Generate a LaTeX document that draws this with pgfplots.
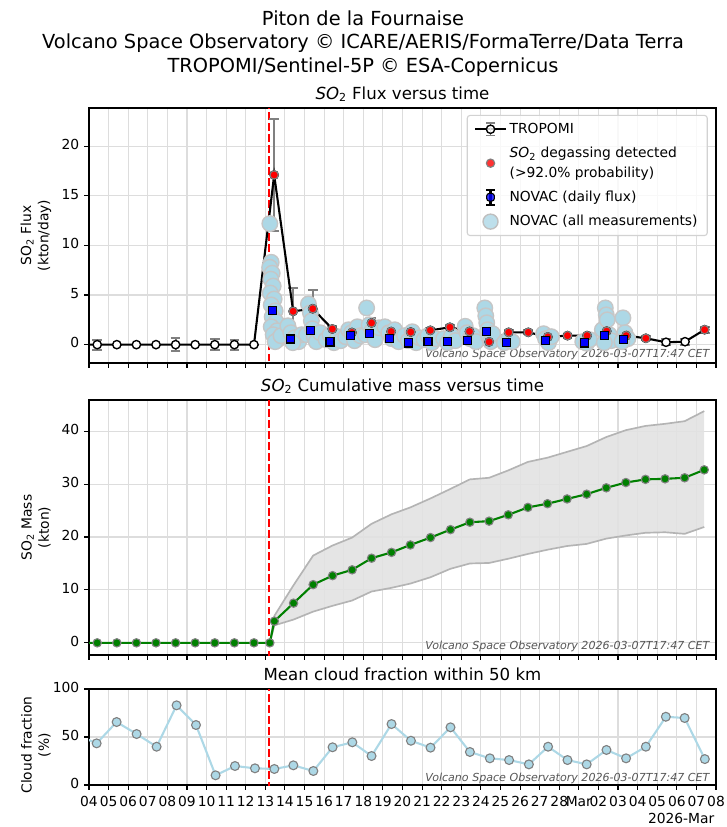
\documentclass[border=0pt]{standalone}
\usepackage{fontspec}
\setmainfont{DejaVu Sans}
\usepackage{pgfplots}
\usepackage{pgfplotstable}
\pgfplotsset{compat=1.18}
\usepgfplotslibrary{fillbetween}

\definecolor{lblue}{HTML}{ADD8E6}
\definecolor{mplgreen}{HTML}{008000}
\definecolor{gridc}{HTML}{DDDDDD}
\definecolor{wmark}{HTML}{555555}
\definecolor{edgegray}{HTML}{808080}
\definecolor{bandfill}{HTML}{E2E2E2}
\definecolor{bandedge}{HTML}{B4B4B4}

% TROPOMI flux: x (days since Feb 04), flux, error
\pgfplotstableread[row sep=\\]{
x y e\\
-0.58 0 0\\
0.42 0 0.5\\
1.42 0 0\\
2.42 0 0\\
3.42 0 0\\
4.42 0 0.65\\
5.42 0 0\\
6.42 0 0.55\\
7.42 0 0.5\\
8.42 0 0\\
9.45 17.1 5.6\\
10.42 3.36 2.35\\
11.42 3.62 1.9\\
12.42 1.58 0.3\\
13.42 1.22 0.3\\
14.42 2.19 0.5\\
15.42 1.32 0.3\\
16.42 1.27 0.2\\
17.42 1.44 0.2\\
18.42 1.75 0.2\\
19.42 1.33 0.2\\
20.42 0.28 0.2\\
21.42 1.24 0.2\\
22.42 1.24 0.2\\
23.42 0.78 0.2\\
24.42 0.91 0.2\\
25.42 0.91 0.2\\
26.42 1.36 0.3\\
27.42 0.91 0.2\\
28.42 0.64 0.2\\
29.45 0.24 0.3\\
30.42 0.30 0.3\\
31.42 1.51 0.3\\
}\tropomi

% degassing detected (red)
\pgfplotstableread[row sep=\\]{
x y\\
9.45 17.1\\
10.42 3.36\\
11.42 3.62\\
12.42 1.58\\
13.42 1.22\\
14.42 2.19\\
15.42 1.32\\
16.42 1.27\\
17.42 1.44\\
18.42 1.75\\
19.42 1.33\\
20.42 0.28\\
21.42 1.24\\
22.42 1.24\\
23.42 0.78\\
24.42 0.91\\
25.42 0.91\\
26.42 1.36\\
27.42 0.91\\
28.42 0.64\\
31.42 1.51\\
}\degas

% NOVAC daily flux
\pgfplotstableread[row sep=\\]{
x y e\\
9.35 3.45 2.85\\
10.30 0.57 0.25\\
11.30 1.42 1.03\\
12.30 0.27 0.20\\
13.35 0.93 0.45\\
14.30 1.10 0.75\\
15.35 0.63 0.45\\
16.30 0.17 0.15\\
17.30 0.30 0.15\\
18.30 0.30 0.15\\
19.30 0.42 0.25\\
20.30 1.30 1.20\\
21.30 0.23 0.15\\
23.30 0.40 0.20\\
25.30 0.17 0.15\\
26.30 0.91 1.00\\
27.30 0.50 0.30\\
}\novacday

% NOVAC all measurements
\pgfplotstableread[row sep=\\]{
x y\\
9.23 12.2\\ 9.30 8.3\\ 9.22 7.8\\ 9.35 7.2\\ 9.28 6.6\\ 9.40 5.9\\ 9.25 5.2\\ 9.45 4.6\\
9.30 4.0\\ 9.50 3.4\\ 9.35 2.8\\ 9.55 2.3\\ 9.30 1.8\\ 9.60 1.4\\ 9.40 1.0\\ 9.70 0.6\\
9.50 0.3\\ 9.80 0.9\\
10.15 1.9\\ 10.30 1.2\\ 10.50 0.7\\ 10.70 0.3\\ 10.85 1.0\\ 10.40 0.2\\
11.10 1.0\\ 11.20 4.1\\ 11.30 3.2\\ 11.35 2.4\\ 11.40 1.6\\ 11.50 0.8\\ 11.60 0.3\\ 11.80 1.2\\
12.10 0.5\\ 12.30 1.0\\ 12.50 0.2\\ 12.70 0.8\\ 12.85 0.4\\
13.10 0.8\\ 13.25 1.5\\ 13.40 1.2\\ 13.55 0.4\\ 13.70 1.8\\ 13.85 0.9\\
14.10 1.0\\ 14.17 3.7\\ 14.30 2.0\\ 14.45 1.4\\ 14.60 0.5\\ 14.80 1.7\\
15.10 1.8\\ 15.30 1.2\\ 15.45 0.6\\ 15.60 1.5\\ 15.80 0.3\\
16.10 0.9\\ 16.30 0.4\\ 16.50 1.3\\ 16.70 0.2\\ 16.85 0.7\\
17.10 0.5\\ 17.30 0.9\\ 17.50 0.2\\ 17.70 0.6\\
18.10 0.6\\ 18.30 0.2\\ 18.50 0.9\\ 18.70 0.4\\
19.20 1.85\\ 19.30 1.2\\ 19.45 0.6\\ 19.60 0.9\\ 19.75 0.3\\
20.20 3.7\\ 20.25 2.9\\ 20.30 2.2\\ 20.35 1.5\\ 20.40 0.8\\ 20.50 0.3\\ 20.60 1.1\\
21.20 0.2\\ 21.40 0.5\\ 21.60 0.3\\
23.20 1.1\\ 23.30 0.6\\ 23.45 0.2\\ 23.60 0.8\\
25.20 0.3\\ 25.40 0.15\\ 25.55 0.5\\
26.20 1.5\\ 26.35 3.7\\ 26.40 3.0\\ 26.45 2.5\\ 26.55 1.0\\ 26.65 0.4\\ 26.30 0.2\\
27.25 2.7\\ 27.35 1.2\\ 27.50 0.6\\ 27.20 0.3\\
}\novacall

% cumulative mass: x, mass, lower, upper
\pgfplotstableread[row sep=\\]{
x y lo up\\
-0.58 0 0 0\\
0.42 0 0 0\\
1.42 0 0 0\\
2.42 0 0 0\\
3.42 0 0 0\\
4.42 0 0 0\\
5.42 0 0 0\\
6.42 0 0 0\\
7.42 0 0 0\\
8.42 0 0 0\\
9.23 0 0 0\\
9.46 4.1 3.3 5.1\\
10.44 7.5 4.4 10.9\\
11.44 11.0 5.9 16.5\\
12.43 12.7 7.0 18.4\\
13.43 13.8 8.0 19.9\\
14.42 16.0 9.7 22.5\\
15.44 17.1 10.4 24.3\\
16.40 18.5 11.2 25.6\\
17.43 19.9 12.4 27.3\\
18.45 21.4 14.0 29.1\\
19.44 22.8 15.0 30.9\\
20.42 23.0 15.1 31.2\\
21.40 24.2 15.9 32.6\\
22.40 25.6 16.8 34.2\\
23.40 26.3 17.6 35.0\\
24.40 27.2 18.3 36.1\\
25.40 28.1 18.7 37.2\\
26.40 29.3 19.7 38.9\\
27.40 30.3 20.3 40.2\\
28.40 30.9 20.8 41.0\\
29.40 31.0 20.9 41.4\\
30.40 31.2 20.6 41.9\\
31.40 32.7 21.9 43.8\\
}\mass

% cloud fraction
\pgfplotstableread[row sep=\\]{
x y\\
-0.58 52\\
0.39 43.4\\
1.41 65.6\\
2.43 53.1\\
3.45 39.9\\
4.47 83.0\\
5.46 62.5\\
6.46 10.1\\
7.45 19.8\\
8.47 17.4\\
9.46 16.7\\
10.43 20.5\\
11.45 14.6\\
12.43 39.3\\
13.44 44.5\\
14.42 30.2\\
15.44 63.5\\
16.43 46.1\\
17.43 38.9\\
18.45 60.1\\
19.44 34.4\\
20.46 27.8\\
21.44 26.0\\
22.45 21.5\\
23.43 39.9\\
24.42 26.0\\
25.40 21.5\\
26.41 36.5\\
27.41 27.8\\
28.42 39.9\\
29.44 71.1\\
30.40 69.8\\
31.43 27.0\\
}\cloud

\pgfplotsset{
  vso/.style={
    scale only axis, width=451.44bp, anchor=south west,
    xmin=0, xmax=32, xtick={0,...,32},
    grid=major, major grid style={gridc, line width=0.8bp},
    axis line style={black, line width=0.8bp},
    tick align=outside, major tick length=3.5bp,
    tick style={black, line width=0.8bp},
    xtick pos=bottom, ytick pos=left,
    /pgf/number format/assume math mode=true,
    typeset ticklabels with strut,
    tick label style={font=\fontsize{10}{12}\selectfont},
    every axis y label/.style={at={(axis description cs:0,0.5)}, xshift=-38.2bp, rotate=90, anchor=center, align=center, font=\fontsize{10}{12.5}\selectfont},
    title style={at={(0.5,1)}, anchor=base, yshift=0.5bp, inner sep=0pt, font=\fontsize{12}{14}\selectfont},
  },
  eruption/.style={red, line width=1.5bp, dash pattern=on 5.5bp off 2.4bp, forget plot},
}
\tikzset{
  wm/.style={anchor=south east, inner sep=0pt, text=wmark, font=\fontsize{8}{9}\selectfont\itshape},
}

\begin{document}
\begin{tikzpicture}
% figure title
\node[anchor=base, font=\fontsize{14}{16}\selectfont] at (261.36bp,-18.72bp) {Piton de la Fournaise};
\node[anchor=base, font=\fontsize{14}{16}\selectfont] at (261.36bp,-35.28bp) {Volcano Space Observatory © ICARE/AERIS/FormaTerre/Data Terra};
\node[anchor=base, font=\fontsize{14}{16}\selectfont] at (261.36bp,-51.84bp) {TROPOMI/Sentinel-5P © ESA-Copernicus};

% ---------------- flux ----------------
\begin{axis}[vso, at={(64.08bp,-261.36bp)}, height=183.6bp,
  ymin=-1.85, ymax=23.85, ytick={0,5,10,15,20}, xticklabels={},
  ylabel={SO\textsubscript{2} Flux\\(kton/day)},
  title={\textit{SO}\textsubscript{2} Flux versus time},
  legend style={at={(0.987,0.973)}, anchor=north east, draw=gray!35, line width=0.8bp,
    rounded corners=2bp, fill=white, fill opacity=0.8, draw opacity=1, text opacity=1,
    font=\fontsize{10}{14}\selectfont, cells={anchor=west, align=left},
    row sep=4.5bp, inner xsep=5bp, inner ysep=3.5bp},
]
\addlegendimage{legend image code/.code={
  \draw[black, line width=1.5bp] (0bp,0bp) -- (22bp,0bp);
  \draw[edgegray, line width=1.2bp] (11bp,-4.5bp) -- (11bp,4.5bp) (8bp,-4.5bp) -- (14bp,-4.5bp) (8bp,4.5bp) -- (14bp,4.5bp);
  \draw[black, fill=white, line width=1bp] (11bp,0bp) circle (3bp);}}
\addlegendentry{TROPOMI}
\addlegendimage{legend image code/.code={
  \draw[edgegray, fill=red, line width=0.8bp] (11bp,0bp) circle (3bp);}}
\addlegendentry{\textit{SO}\textsubscript{2} degassing detected\\(>92.0\% probability)}
\addlegendimage{legend image code/.code={
  \draw[black, line width=1.5bp] (11bp,-5.4bp) -- (11bp,5.4bp) (8bp,-5.4bp) -- (14bp,-5.4bp) (8bp,5.4bp) -- (14bp,5.4bp);
  \draw[black, fill=blue, line width=0.8bp] (8.2bp,-2.8bp) rectangle (13.8bp,2.8bp);}}
\addlegendentry{NOVAC (daily flux)}
\addlegendimage{legend image code/.code={
  \draw[gray!50, fill=lblue, line width=1bp] (11bp,0bp) circle (5.4bp);}}
\addlegendentry{NOVAC (all measurements)}

\addplot[only marks, mark=*, mark size=5.6bp, mark options={fill=lblue, draw=gray!45, line width=1bp}, forget plot] table {\novacall};
\addplot[eruption] coordinates {(9.2,-5) (9.2,30)};
\addplot[only marks, mark=none, forget plot,
  error bars/.cd, y dir=both, y explicit,
  error bar style={edgegray, line width=1.5bp},
  error mark options={edgegray, line width=1.5bp, mark size=3.5bp, rotate=90}]
  table[x=x, y=y, y error=e] {\tropomi};
\addplot[black, line width=1.5bp, mark=*, mark size=3bp, mark options={fill=white, draw=black, line width=1bp}, forget plot] table[x=x, y=y] {\tropomi};
\addplot[only marks, mark=*, mark size=3bp, mark options={fill=red, draw=edgegray, line width=0.8bp}, forget plot] table {\degas};
\addplot[only marks, mark=square*, mark size=2.9bp, mark options={fill=blue, draw=black, line width=0.8bp}, forget plot,
  error bars/.cd, y dir=both, y explicit,
  error bar style={black, line width=1.5bp},
  error mark options={black, line width=1.5bp, mark size=3bp, rotate=90}]
  table[x=x, y=y, y error=e] {\novacday};
\node[wm] at (axis description cs:0.99,0.01) {Volcano Space Observatory 2026-03-07T17:47 CET};
\end{axis}

% ---------------- mass ----------------
\begin{axis}[vso, at={(64.08bp,-471.6bp)}, height=183.6bp,
  ymin=-2.3, ymax=45.9, ytick={0,10,20,30,40}, xticklabels={},
  ylabel={SO\textsubscript{2} Mass\\(kton)},
  title={\textit{SO}\textsubscript{2} Cumulative mass versus time},
]
\addplot[name path=up, bandedge, line width=1.2bp, forget plot] table[x=x, y=up] {\mass};
\addplot[name path=lo, bandedge, line width=1.2bp, forget plot] table[x=x, y=lo] {\mass};
\addplot[bandfill, fill opacity=0.9, forget plot] fill between[of=up and lo];
\addplot[eruption] coordinates {(9.2,-5) (9.2,60)};
\addplot[mplgreen, line width=1.5bp, mark=*, mark size=3bp, mark options={fill=mplgreen, draw=edgegray, line width=0.8bp}, forget plot] table[x=x, y=y] {\mass};
\node[wm] at (axis description cs:0.99,0.01) {Volcano Space Observatory 2026-03-07T17:47 CET};
\end{axis}

% ---------------- cloud ----------------
\begin{axis}[vso, name=cloudax, at={(64.08bp,-565.2bp)}, height=69.12bp,
  ymin=0, ymax=100, ytick={0,50,100},
  xticklabels={04,05,06,07,08,09,10,11,12,13,14,15,16,17,18,19,20,21,22,23,24,25,26,27,28,Mar,02,03,04,05,06,07,08},
  every axis y label/.append style={xshift=-5.8bp},
  ylabel={Cloud fraction\\(\%)},
  title={Mean cloud fraction within 50 km},
]
\addplot[eruption] coordinates {(9.2,-5) (9.2,120)};
\addplot[lblue, line width=1.5bp, mark=*, mark size=3.2bp, mark options={fill=lblue, draw=edgegray, line width=0.8bp}, forget plot] table[x=x, y=y] {\cloud};
\node[wm] at (axis description cs:0.99,0.01) {Volcano Space Observatory 2026-03-07T17:47 CET};
\end{axis}
\node[anchor=base east, inner sep=0pt, font=\fontsize{10}{12}\selectfont] at ([xshift=-1bp, yshift=-28bp]cloudax.south east) {2026-Mar};

\pgfresetboundingbox
\path[use as bounding box] (0bp,0bp) rectangle (522.72bp,-595.44bp);
\end{tikzpicture}
\end{document}
